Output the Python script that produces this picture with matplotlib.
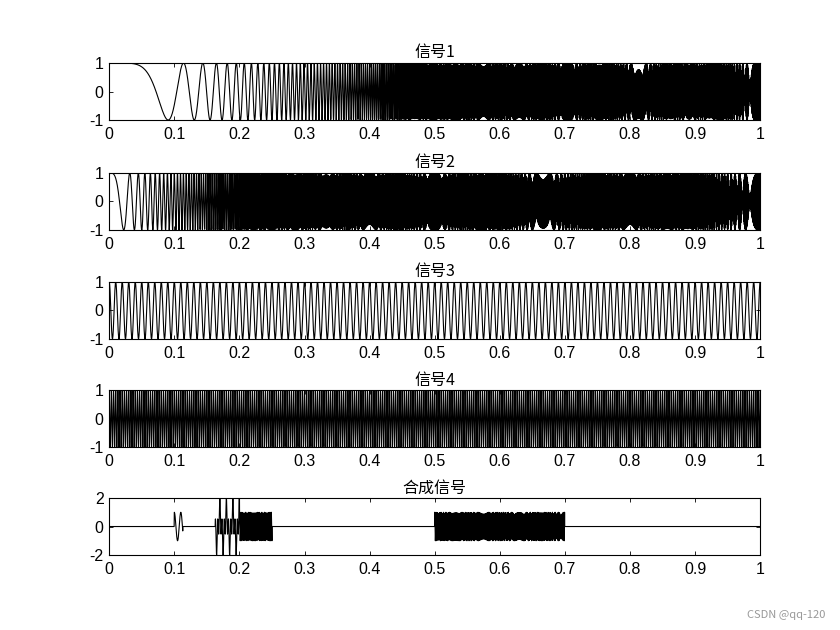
import numpy as np
import matplotlib
matplotlib.use("Agg")
import matplotlib.pyplot as plt

plt.rcParams['font.family'] = ['Noto Sans CJK SC', 'DejaVu Sans']

# sampling
fs = 4000
t = np.arange(0, 1 + 1 / fs / 2, 1 / fs)

# signal parameters
chirp1_rate = 672      # cos(2*pi*k*t^3)
chirp2_rate = 1000     # cos(2*pi*k*t^2)
tone3_freq = 100
tone4_freq = 300

s1 = np.cos(2 * np.pi * chirp1_rate * t ** 3)
s2 = np.cos(2 * np.pi * chirp2_rate * t ** 2)
s3 = np.cos(2 * np.pi * tone3_freq * t)
s4 = np.cos(2 * np.pi * tone4_freq * t)

# composite: which signals are switched on in which time window
seg_parts = [[3], [3, 4], [2], [1]]
seg_start = [0.1, 0.163, 0.2, 0.5]
seg_end = [0.113, 0.2, 0.25, 0.7]

signals = {1: s1, 2: s2, 3: s3, 4: s4}
mix = np.zeros_like(t)
for parts, a, b in zip(seg_parts, seg_start, seg_end):
    win = (t >= a) & (t <= b)
    for p in parts:
        mix[win] += signals[p][win]

titles = ['信号1', '信号2', '信号3', '信号4', '合成信号']
series = [s1, s2, s3, s4, mix]
ylims = [(-1, 1)] * 4 + [(-2, 2)]
yticks = [[-1, 0, 1]] * 4 + [[-2, 0, 2]]
xticks = np.round(np.arange(0, 1.01, 0.1), 1)
xtick_labels = ['0', '0.1', '0.2', '0.3', '0.4', '0.5', '0.6', '0.7', '0.8', '0.9', '1']

fig = plt.figure(figsize=(8.4, 6.3), dpi=100)
bottoms = [0.8095, 0.635, 0.462, 0.290, 0.119]
left, width, height = 0.13, 0.775, 0.0905

for i in range(5):
    ax = fig.add_axes([left, bottoms[i], width, height])
    ax.plot(t, series[i], color='k', lw=0.8)
    ax.set_xlim(0, 1)
    ax.set_ylim(*ylims[i])
    ax.set_xticks(xticks)
    ax.set_xticklabels(xtick_labels, family=['Liberation Sans', 'DejaVu Sans'])
    ax.set_yticks(yticks[i])
    ax.set_yticklabels([str(v) for v in yticks[i]], family=['Liberation Sans', 'DejaVu Sans'])
    ax.tick_params(direction='in', top=True, right=True, labelsize=11.5,
                   length=3, width=0.6)
    ax.tick_params(axis='x', pad=5)
    ax.tick_params(axis='y', pad=4)
    for sp in ax.spines.values():
        sp.set_linewidth(0.8)
    ax.set_title(titles[i], fontsize=11.5, pad=4)

fig.text(0.982, 0.016, 'CSDN @qq-120', ha='right', va='bottom', fontsize=8, color='#999999')

fig.savefig('out.png', dpi=100)
